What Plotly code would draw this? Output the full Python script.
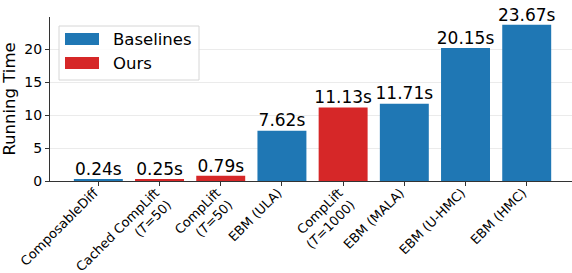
import plotly.graph_objects as go

categories = ["ComposableDiff", "Cached CompLift<br>(<i>T</i>=50)", "CompLift<br>(<i>T</i>=50)",
              "EBM (ULA)", "CompLift<br>(<i>T</i>=1000)", "EBM (MALA)", "EBM (U-HMC)", "EBM (HMC)"]
times = [0.24, 0.25, 0.79, 7.62, 11.13, 11.71, 20.15, 23.67]
groups = ["Baselines", "Ours", "Ours", "Baselines", "Ours", "Baselines", "Baselines", "Baselines"]
legend_names = ["Baselines", "Ours"]
colors = {"Baselines": "#1f77b4", "Ours": "#d62728"}

fig = go.Figure()
for g in legend_names:
    xs = [i for i, gg in enumerate(groups) if gg == g]
    ys = [times[i] for i in xs]
    fig.add_trace(go.Bar(
        x=xs, y=ys, name=g, width=0.8, marker=dict(color=colors[g], line=dict(width=0)),
        showlegend=False, hoverinfo="skip",
    ))

# value labels above bars
fig.add_trace(go.Scatter(
    x=list(range(len(times))), y=times, mode="text",
    text=[f"{v:.2f}s" for v in times], textposition="top center",
    textfont=dict(size=17, color="#000000"), cliponaxis=False, showlegend=False,
    hoverinfo="skip",
))

W, H = 572, 273
PL, PR, PT, PB = 50, 572, 17, 181  # plot area in window pixels


def px(xp):
    return (xp - PL) / (PR - PL)


def py(yp):
    return (PB - yp) / (PB - PT)


# custom legend (wide patches like the reference)
fig.add_shape(type="rect", xref="paper", yref="paper",
              x0=px(59), x1=px(199), y0=py(80), y1=py(26),
              line=dict(color="#d6d6d6", width=1), fillcolor="rgba(255,255,255,0.85)", layer="above")
for k, g in enumerate(legend_names):
    yc = 39 + k * 24
    fig.add_shape(type="rect", xref="paper", yref="paper",
                  x0=px(65), x1=px(99), y0=py(yc + 6), y1=py(yc - 6),
                  line=dict(width=0), fillcolor=colors[g], layer="above")
    fig.add_annotation(xref="paper", yref="paper", x=px(111), y=py(yc), text=g,
                       showarrow=False, xanchor="left", yanchor="middle",
                       font=dict(size=16.5, color="#000000"))

fig.update_layout(
    width=W, height=H,
    margin=dict(l=PL, r=W - PR, t=PT, b=H - PB, pad=0),
    paper_bgcolor="white", plot_bgcolor="white",
    barmode="overlay",
    font=dict(family="DejaVu Sans", color="#000000"),
    showlegend=False,
)
fig.update_xaxes(
    range=[-0.79, 7.74], tickmode="array", tickvals=list(range(len(categories))), ticktext=categories,
    tickangle=-45, tickfont=dict(size=13), ticks="outside", ticklen=4, tickcolor="#333333",
    ticklabelstandoff=-6, ticklabelshift=-4,
    showline=True, linecolor="#333333", linewidth=1.2, showgrid=False, zeroline=False,
    automargin=False,
)
fig.update_yaxes(
    range=[0, 24.85], tickvals=[0, 5, 10, 15, 20], tickfont=dict(size=14),
    ticks="outside", ticklen=4, tickcolor="#333333",
    showline=True, linecolor="#333333", linewidth=1.2,
    showgrid=True, gridcolor="#ebebeb", gridwidth=1, zeroline=False,
    title=dict(text="Running Time", font=dict(size=16.5), standoff=8),
    automargin=False,
)

fig.write_html("out.html", config={"displayModeBar": False},
               post_script="document.body.style.margin='0px';")
